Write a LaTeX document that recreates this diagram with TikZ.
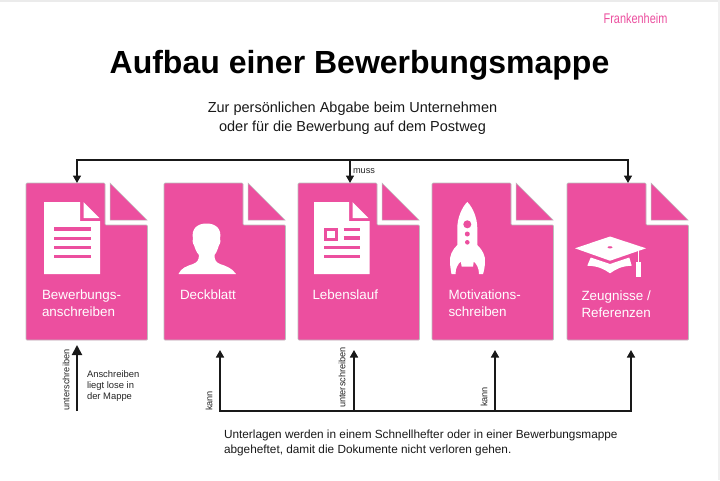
\documentclass[tikz,border=0pt]{standalone}
\usepackage{fontspec}
\setmainfont{Liberation Sans}
\usetikzlibrary{arrows.meta}
\definecolor{mappepink}{HTML}{EC4F9F}
\definecolor{sheetedge}{HTML}{BDBDBD}
\begin{document}
\begin{tikzpicture}[x=1pt, y=-1pt,
  sheet/.style={fill=mappepink, draw=sheetedge, line width=.7pt, rounded corners=1pt},
  fold/.style={fill=mappepink, draw=sheetedge, line width=.5pt},
  icon/.style={fill=white, draw=none},
  iconline/.style={draw=mappepink, line width=3.2pt},
  link/.style={draw=black!90, line width=1.6pt, arrows={-Triangle[width=8pt, length=7.5pt]}},
  linkboth/.style={draw=black!90, line width=1.6pt, arrows={Triangle[width=8pt, length=7.5pt]-Triangle[width=8pt, length=7.5pt]}},
  cardtext/.style={text=white, anchor=west, align=left, font=\fontsize{13.4}{17}\selectfont},
  smalltext/.style={text=black!85, font=\fontsize{9.2}{10}\selectfont},
  sidetext/.style={smalltext, rotate=90}]

\useasboundingbox (0, 0) rectangle (720, 480);
\fill [white] (0, 0) rectangle (720, 480);
\fill [black!8] (0, 0) rectangle (720, 1.5);
\fill [black!6] (718, 0) rectangle (720, 480);

\node [text=mappepink, xscale=.78, font=\fontsize{14}{16}\selectfont] (marke) at (635.5, 18) {Frankenheim};
\node [font=\fontsize{32}{36}\bfseries\selectfont] (titel) at (359.5, 65) {Aufbau einer Bewerbungsmappe};
\node [align=center, text=black!90, font=\fontsize{14.5}{19}\selectfont] (untertitel) at (352.5, 118.5) {Zur persönlichen Abgabe beim Unternehmen\\oder für die Bewerbung auf dem Postweg};

\draw [sheet, shift={(26, 183)}] (0, 0) -- (79, 0) -- (79, 42) -- (121.5, 42) -- (121.5, 157) -- (0, 157) -- cycle;
\draw [fold, shift={(26, 183)}] (84, 0) -- (121, 37) -- (84, 37) -- cycle;
\draw [sheet, shift={(164, 183)}] (0, 0) -- (79, 0) -- (79, 42) -- (121.5, 42) -- (121.5, 157) -- (0, 157) -- cycle;
\draw [fold, shift={(164, 183)}] (84, 0) -- (121, 37) -- (84, 37) -- cycle;
\draw [sheet, shift={(298, 183)}] (0, 0) -- (79, 0) -- (79, 42) -- (121.5, 42) -- (121.5, 157) -- (0, 157) -- cycle;
\draw [fold, shift={(298, 183)}] (84, 0) -- (121, 37) -- (84, 37) -- cycle;
\draw [sheet, shift={(432, 183)}] (0, 0) -- (79, 0) -- (79, 42) -- (121.5, 42) -- (121.5, 157) -- (0, 157) -- cycle;
\draw [fold, shift={(432, 183)}] (84, 0) -- (121, 37) -- (84, 37) -- cycle;
\draw [sheet, shift={(567, 183)}] (0, 0) -- (79, 0) -- (79, 42) -- (121.5, 42) -- (121.5, 157) -- (0, 157) -- cycle;
\draw [fold, shift={(567, 183)}] (84, 0) -- (121, 37) -- (84, 37) -- cycle;

\fill [icon] (44, 202) -- (80, 202) -- (80, 221) -- (100, 221) -- (100, 274) -- (44, 274) -- cycle;
\fill [icon] (83.5, 202) -- (99.5, 218) -- (83.5, 218) -- cycle;
\draw [iconline] (54, 229) -- (90.5, 229);
\draw [iconline] (54, 238.5) -- (90.5, 238.5);
\draw [iconline] (54, 247.5) -- (90.5, 247.5);
\draw [iconline] (54, 256.5) -- (90.5, 256.5);

\fill [icon] (178.5, 274) .. controls (181, 268) and (187, 266) .. (193, 264)
  .. controls (197, 262.5) and (199, 260) .. (199, 255)
  .. controls (196, 252) and (195, 248) .. (194, 245)
  .. controls (192.5, 244) and (192.5, 240) .. (193, 239)
  .. controls (191, 229) and (197, 223.5) .. (206.5, 223.5)
  .. controls (216, 223.5) and (222, 229) .. (220, 239)
  .. controls (220.5, 240) and (220.5, 244) .. (219, 245)
  .. controls (218, 248) and (217, 252) .. (214.5, 255)
  .. controls (214.5, 260) and (216, 262.5) .. (220, 264)
  .. controls (226, 266) and (232, 268) .. (236, 274) -- cycle;

\fill [icon] (314, 202) -- (349, 202) -- (349, 221) -- (369.5, 221) -- (369.5, 274) -- (314, 274) -- cycle;
\fill [icon] (352.5, 202) -- (368.5, 218) -- (352.5, 218) -- cycle;
\draw [draw=mappepink, line width=2.6pt] (325.2, 229.5) rectangle (336.2, 239.5);
\draw [iconline] (343.5, 229.5) -- (360, 229.5);
\draw [iconline] (343.5, 238) -- (360, 238);
\draw [iconline] (324, 247.5) -- (360, 247.5);
\draw [iconline] (324, 256.5) -- (360, 256.5);

\fill [icon] (467.3, 202) .. controls (462, 207) and (457.3, 218) .. (457.3, 228) -- (457.3, 245)
  .. controls (452, 250) and (449.5, 256) .. (450, 262) .. controls (450.2, 267) and (451, 271) .. (451.5, 274)
  -- (455.5, 274) .. controls (455.5, 268) and (458, 264) .. (460.8, 261.5) -- (461.7, 266.7)
  -- (473, 266.7) -- (473.8, 261.5) .. controls (476.6, 264) and (479, 268) .. (479, 274)
  -- (483, 274) .. controls (484, 271) and (484.8, 267) .. (485, 262) .. controls (485.5, 256) and (482.6, 250) .. (477.3, 245)
  -- (477.3, 228) .. controls (477.3, 218) and (472.6, 207) .. (467.3, 202) -- cycle;
\fill [mappepink] (467.3, 224.3) circle [radius=4];
\fill [mappepink] (467.3, 234) circle [radius=2.5];
\fill [mappepink] (467.3, 242.3) circle [radius=2.3];

\fill [icon] (610, 236.5) -- (646, 248.3) -- (610, 260.7) -- (575, 248.3) -- cycle;
\fill [mappepink] (610, 247.3) ellipse [x radius=2.5, y radius=1.1];
\fill [icon] (590.7, 257.5) -- (610, 264) -- (629.3, 257.5) -- (631.7, 265.7)
  .. controls (622, 266) and (616, 269) .. (610, 273.3)
  .. controls (604, 269) and (598, 266) .. (587.3, 265.7) -- cycle;
\fill [icon] (637.6, 251) rectangle (639.2, 262);
\fill [icon] (636.2, 262) rectangle (640.6, 276.5);

\node [cardtext] (anschreiben) at (38.5, 303) {Bewerbungs-\\anschreiben};
\node [cardtext] (deckblatt) at (176.5, 294.5) {Deckblatt};
\node [cardtext] (lebenslauf) at (309, 294.5) {Lebenslauf};
\node [cardtext] (motivation) at (445, 303) {Motivations-\\schreiben};
\node [cardtext] (zeugnisse) at (578, 304) {Zeugnisse /\\Referenzen};

\coordinate (inA) at (77, 183);
\coordinate (busA) at (77, 160);
\coordinate (busE) at (628, 160);
\coordinate (inE) at (628, 183);
\coordinate (busC) at (350, 160);
\coordinate (inC) at (350, 183);
\draw [linkboth] (inA) -- (busA) -- (busE) -- (inE);
\draw [link] (busC) -- (inC);
\node [smalltext, anchor=west] (muss) at (349.5, 171) {muss};

\coordinate (fussA) at (77, 411);
\coordinate (kopfA) at (77, 345);
\draw [link, line width=2pt, arrows={-Triangle[width=10pt, length=10pt]}] (fussA) -- (kopfA);
\node [sidetext] (unterschreibenA) at (66, 380) {unterschreiben};
\node [text=black!85, anchor=west, align=left, font=\fontsize{9.4}{11}\selectfont] (lose) at (83.5, 386) {Anschreiben\\liegt lose in\\der Mappe};

\coordinate (fussB) at (220, 411);
\coordinate (kopfB) at (220, 350);
\coordinate (fussC) at (354, 411);
\coordinate (kopfC) at (354, 350);
\coordinate (fussD) at (495, 411);
\coordinate (kopfD) at (495, 350);
\coordinate (fussE) at (631, 411);
\coordinate (kopfE) at (631, 350);
\draw [linkboth] (kopfB) -- (fussB) -- (fussE) -- (kopfE);
\draw [link] (fussC) -- (kopfC);
\draw [link] (fussD) -- (kopfD);
\node [sidetext] (kannB) at (209, 401) {kann};
\node [sidetext] (unterschreibenC) at (342, 377.5) {unterschreiben};
\node [sidetext] (kannD) at (484, 397) {kann};

\node [anchor=west, align=left, text=black!90, font=\fontsize{11.8}{15}\selectfont] (unterlagen) at (220.5, 442.5) {Unterlagen werden in einem Schnellhefter oder in einer Bewerbungsmappe\\abgeheftet, damit die Dokumente nicht verloren gehen.};
\end{tikzpicture}
\end{document}
